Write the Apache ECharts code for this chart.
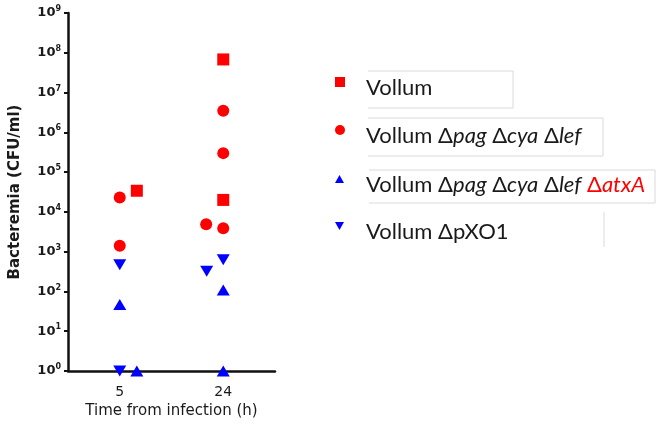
<!DOCTYPE html>
<html>
<head>
<meta charset="utf-8">
<script src="https://cdn.jsdelivr.net/npm/echarts@6/dist/echarts.min.js"></script>
<style>
  html, body { margin: 0; padding: 0; background: #fff; }
  #chart { width: 662px; height: 429px; }
</style>
</head>
<body>
<div id="chart"></div>
<script>
// time points (h) and where they sit on the x scale
const hours = ['5', '24']
const hourPos = [1, 3]

// x positions (with jitter) and bacteremia values, CFU/ml
const vollumX = [1.33, 3, 3]
const vollumY = [3.4e4, 6.8e7, 2.0e4]

const delta3X = [1, 1, 3, 3, 2.67, 3]
const delta3Y = [2.3e4, 1.4e3, 3.5e6, 3.0e5, 4.9e3, 3.9e3]

const atxAX = [1, 1.33, 3, 3]
const atxAY = [47, 1, 108, 1]

const pXO1X = [1, 1, 2.68, 3]
const pXO1Y = [470, 1, 320, 630]

const seriesNames = [
  'Vollum',
  'Vollum Δpag Δcya Δlef',
  'Vollum Δpag Δcya Δlef ΔatxA',
  'Vollum ΔpXO1',
]

const legendText = {
  'Vollum': '{sp|}{n|Vollum}',
  'Vollum Δpag Δcya Δlef': '{sp|}{n|Vollum Δ}{i|pag} {n|Δ}{i|cya} {n|Δ}{i|lef}',
  'Vollum Δpag Δcya Δlef ΔatxA': '{sp|}{n|Vollum Δ}{i|pag} {n|Δ}{i|cya} {n|Δ}{i|lef} {r|Δ}{ri|atxA}',
  'Vollum ΔpXO1': '{sp|}{n|Vollum ΔpXO1}',
}

const zip = (xs, ys) => xs.map((x, i) => [x, ys[i]])

const RED = '#ff0000'
const BLUE = '#0000ff'
const square = 'path://M0,0 L10,0 L10,10 L0,10 Z'
const downTri = 'path://M0,0 L10,0 L5,9 Z'
const upTri = 'path://M5,0 L10,9 L0,9 Z'

const chart = echarts.init(document.getElementById('chart'))

const legendFont = { fontFamily: 'Lato', fontSize: 22, color: '#1a1a1a', lineHeight: 26, verticalAlign: 'bottom' }
const legendTops = [71, 119, 168, 215]
const legendIconSize = [10, 10, 9, 9]

const makeLegend = (name, i) => ({
  data: [name],
  left: 335,
  top: legendTops[i],
  padding: 0,
  itemWidth: legendIconSize[i],
  itemHeight: legendIconSize[i],
  selectedMode: false,
  formatter: (n) => legendText[n],
  textStyle: {
    fontFamily: 'Lato',
    fontSize: 22,
    color: '#1a1a1a',
    rich: {
      sp: { width: 16 - legendIconSize[i] + 10, lineHeight: 34 },
      n: { ...legendFont },
      i: { ...legendFont, fontStyle: 'italic' },
      r: { ...legendFont, color: RED },
      ri: { ...legendFont, color: RED, fontStyle: 'italic' },
    },
  },
})

const boxStroke = { stroke: '#dadada', lineWidth: 1, fill: null }

const option = {
  backgroundColor: '#fff',
  animation: false,
  grid: { left: 68, right: 387, top: 13, bottom: 58 },
  legend: seriesNames.map(makeLegend),
  graphic: [
    { type: 'polyline', shape: { points: [[368, 71], [513, 71], [513, 108], [368, 108]] }, style: boxStroke },
    { type: 'polyline', shape: { points: [[368, 118], [603, 118], [603, 156], [368, 156]] }, style: boxStroke },
    { type: 'polyline', shape: { points: [[369, 170], [655, 170], [655, 203], [369, 203]] }, style: boxStroke },
    { type: 'line', shape: { x1: 604, y1: 212, x2: 604, y2: 247 }, style: { stroke: '#dadada', lineWidth: 1 } },
  ],
  xAxis: {
    type: 'value',
    min: 0,
    max: 4,
    interval: 1,
    name: 'Time from infection (h)',
    nameLocation: 'middle',
    nameGap: 33,
    nameTextStyle: { fontFamily: 'DejaVu Sans', fontSize: 15, color: '#1a1a1a' },
    axisLine: { lineStyle: { color: '#111', width: 2.5 } },
    axisTick: { show: false },
    splitLine: { show: false },
    axisLabel: {
      customValues: hourPos,
      margin: 14,
      fontFamily: 'DejaVu Sans',
      fontSize: 14,
      color: '#1a1a1a',
      formatter: (v) => {
        const k = hourPos.indexOf(v)
        return k >= 0 ? hours[k] : ''
      },
    },
  },
  yAxis: {
    type: 'log',
    logBase: 10,
    min: 1,
    max: 1e9,
    name: 'Bacteremia (CFU/ml)',
    nameLocation: 'middle',
    nameGap: 45,
    nameTextStyle: { fontFamily: 'DejaVu Sans', fontSize: 15, fontWeight: 'bold', color: '#1a1a1a' },
    axisLine: { show: true, lineStyle: { color: '#111', width: 2.5 } },
    axisTick: { show: true, length: 4, lineStyle: { color: '#111', width: 2 } },
    minorTick: { show: false },
    splitLine: { show: false },
    axisLabel: {
      margin: 7,
      formatter: (v) => '{b|10}{s|' + Math.round(Math.log10(v)) + '}',
      rich: {
        b: { fontFamily: 'DejaVu Sans', fontSize: 13, fontWeight: 'bold', color: '#1a1a1a', lineHeight: 16 },
        s: { fontFamily: 'DejaVu Sans', fontSize: 8, fontWeight: 'bold', color: '#1a1a1a', verticalAlign: 'top', lineHeight: 16 },
      },
    },
  },
  series: [
    { name: seriesNames[0], type: 'scatter', symbol: square, symbolSize: 12, itemStyle: { color: RED, opacity: 1 }, data: zip(vollumX, vollumY) },
    { name: seriesNames[1], type: 'scatter', symbol: 'circle', symbolSize: 12, itemStyle: { color: RED, opacity: 1 }, data: zip(delta3X, delta3Y) },
    { name: seriesNames[2], type: 'scatter', symbol: upTri, symbolSize: [13, 11], itemStyle: { color: BLUE, opacity: 1 }, data: zip(atxAX, atxAY) },
    { name: seriesNames[3], type: 'scatter', symbol: downTri, symbolSize: [13, 11], itemStyle: { color: BLUE, opacity: 1 }, data: zip(pXO1X, pXO1Y) },
  ],
}

chart.setOption(option)
</script>
</body>
</html>
